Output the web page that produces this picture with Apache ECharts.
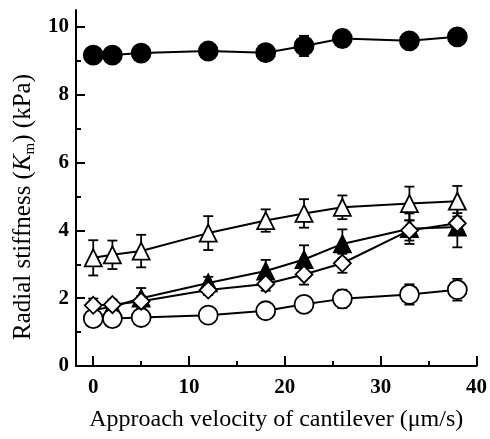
<!DOCTYPE html>
<html>
<head>
<meta charset="utf-8">
<script src="https://cdn.jsdelivr.net/npm/echarts@6/dist/echarts.min.js"></script>
<style>
  html, body { margin: 0; padding: 0; background: #fff; }
  #chart { width: 490px; height: 439px; }
</style>
</head>
<body>
<div id="chart"></div>
<script>
// 接近速度 (μm/s)
var velocity = [0, 2, 5, 12, 18, 22, 26, 33, 38];

// 各组刚度均值与误差 (kPa)
var filledCircle = [9.17, 9.17, 9.23, 9.29, 9.24, 9.44, 9.66, 9.59, 9.71];
var filledCircleErr = [0.15, 0.15, 0.15, 0.2, 0.15, 0.3, 0.25, 0.2, 0.2];
var openTriangle = [3.19, 3.28, 3.39, 3.92, 4.29, 4.5, 4.68, 4.79, 4.86];
var openTriangleErr = [0.52, 0.42, 0.48, 0.5, 0.33, 0.42, 0.35, 0.5, 0.45];
var filledTriangle = [1.65, 1.75, 2.0, 2.45, 2.8, 3.14, 3.6, 4.05, 4.1];
var filledTriangleErr = [0.1, 0.1, 0.3, 0.18, 0.33, 0.42, 0.43, 0.45, 0.6];
var openDiamond = [1.79, 1.81, 1.91, 2.24, 2.42, 2.7, 3.03, 4.0, 4.21];
var openDiamondErr = [0.2, 0.15, 0.15, 0.15, 0.2, 0.3, 0.28, 0.3, 0.3];
var openCircle = [1.4, 1.4, 1.43, 1.5, 1.63, 1.82, 1.98, 2.11, 2.25];
var openCircleErr = [0.1, 0.1, 0.1, 0.15, 0.2, 0.15, 0.27, 0.3, 0.32];

// 刻度
var xMajorTicks = [0, 10, 20, 30, 40];
var xMinorTicks = [5, 15, 25, 35];
var yMajorTicks = [0, 2, 4, 6, 8, 10];
var yMinorTicks = [1, 3, 5, 7, 9];

var serif = '"Liberation Serif", "Times New Roman", "DejaVu Serif", serif';

function pairs(ys) {
  return velocity.map(function (x, i) { return [x, ys[i]]; });
}
function errData(ys, es) {
  return velocity.map(function (x, i) { return [x, ys[i] - es[i], ys[i] + es[i]]; });
}

function errorBars(ys, es) {
  return {
    type: 'custom',
    z: 1,
    silent: true,
    data: errData(ys, es),
    renderItem: function (params, api) {
      var lo = api.coord([api.value(0), api.value(1)]);
      var hi = api.coord([api.value(0), api.value(2)]);
      var w = 5;
      var style = { stroke: '#000', lineWidth: 1.8 };
      return {
        type: 'group',
        children: [
          { type: 'line', shape: { x1: lo[0], y1: lo[1], x2: hi[0], y2: hi[1] }, style: style },
          { type: 'line', shape: { x1: lo[0] - w, y1: lo[1], x2: lo[0] + w, y2: lo[1] }, style: style },
          { type: 'line', shape: { x1: hi[0] - w, y1: hi[1], x2: hi[0] + w, y2: hi[1] }, style: style }
        ]
      };
    }
  };
}

function lineSeries(ys, symbol, size, filled, z) {
  return {
    type: 'line',
    z: z,
    data: pairs(ys),
    symbol: symbol,
    symbolSize: size,
    showAllSymbol: true,
    animation: false,
    lineStyle: { color: '#000', width: 2 },
    itemStyle: { color: filled ? '#000' : '#fff', borderColor: '#000', borderWidth: 1.8 }
  };
}

var axisLine = { show: true, onZero: false, lineStyle: { color: '#000', width: 2 } };
var tickLabel = { color: '#000', fontFamily: serif, fontWeight: 'bold', fontSize: 21 };

var chart = echarts.init(document.getElementById('chart'));
chart.setOption({
  animation: false,
  grid: { left: 76, right: 12, top: 10, bottom: 73 },
  xAxis: [
    {
      type: 'value', min: -1.8, max: 40, position: 'bottom',
      axisLine: axisLine,
      axisTick: { inside: true, length: 10, customValues: xMajorTicks, lineStyle: { color: '#000', width: 2 } },
      axisLabel: Object.assign({ customValues: xMajorTicks, margin: 11 }, tickLabel),
      splitLine: { show: false },
      name: 'Approach velocity of cantilever (μm/s)',
      nameLocation: 'middle',
      nameGap: 42,
      nameTextStyle: { color: '#000', fontFamily: serif, fontSize: 24 }
    },
    {
      type: 'value', min: -1.8, max: 40, position: 'bottom',
      axisLine: { show: false },
      axisTick: { inside: true, length: 5, customValues: xMinorTicks, lineStyle: { color: '#000', width: 2 } },
      axisLabel: { show: false },
      splitLine: { show: false }
    }
  ],
  yAxis: [
    {
      type: 'value', min: 0, max: 10.5, position: 'left',
      axisLine: axisLine,
      axisTick: { inside: true, length: 9, customValues: yMajorTicks, lineStyle: { color: '#000', width: 2 } },
      axisLabel: Object.assign({ customValues: yMajorTicks, margin: 7 }, tickLabel),
      splitLine: { show: false },
      name: '{n|Radial stiffness (}{i|K}{s|m}{n|) (kPa)}',
      nameLocation: 'middle',
      nameGap: 36,
      nameTextStyle: {
        padding: [0, 38, 0, 0],
        rich: {
          n: { color: '#000', fontFamily: serif, fontSize: 25 },
          i: { color: '#000', fontFamily: serif, fontSize: 25, fontStyle: 'italic' },
          s: { color: '#000', fontFamily: serif, fontSize: 15, padding: [12, 0, 0, 0] }
        }
      }
    },
    {
      type: 'value', min: 0, max: 10.5, position: 'left',
      axisLine: { show: false, onZero: false },
      axisTick: { inside: true, length: 5, customValues: yMinorTicks, lineStyle: { color: '#000', width: 2 } },
      axisLabel: { show: false },
      splitLine: { show: false }
    }
  ],
  series: [
    errorBars(filledCircle, filledCircleErr),
    errorBars(openTriangle, openTriangleErr),
    errorBars(filledTriangle, filledTriangleErr),
    errorBars(openDiamond, openDiamondErr),
    errorBars(openCircle, openCircleErr),
    lineSeries(filledCircle, 'circle', 19, true, 2),
    lineSeries(openTriangle, 'triangle', 17, false, 2),
    lineSeries(filledTriangle, 'triangle', 17, true, 2),
    lineSeries(openCircle, 'circle', 19, false, 3),
    lineSeries(openDiamond, 'diamond', 17, false, 4)
  ]
});
</script>
</body>
</html>
